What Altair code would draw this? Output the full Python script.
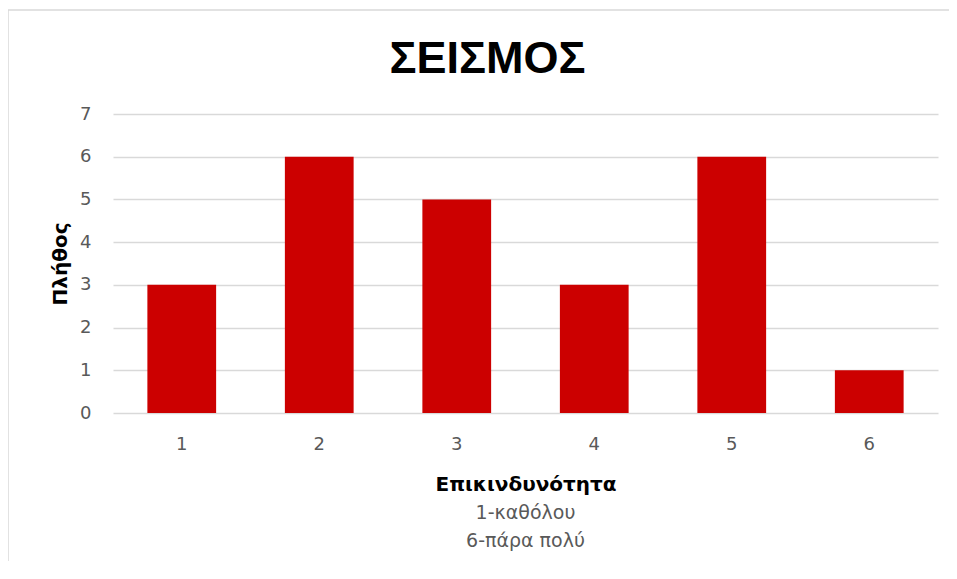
import altair as alt
import pandas as pd

categories = [1, 2, 3, 4, 5, 6]
values = [3, 6, 5, 3, 6, 1]
y_ticks = [0, 1, 2, 3, 4, 5, 6, 7]
chart_title = "ΣΕΙΣΜΟΣ"
x_title = "Επικινδυνότητα"
x_subtitle = ["1-καθόλου", "6-πάρα πολύ"]
y_title = "Πλήθος"

df = pd.DataFrame({"cat": categories, "value": values})

W, H = 825, 299
PAD_R = 11
FONT = "DejaVu Sans"

bars = alt.Chart(df).mark_bar(color="#CC0000").encode(
    x=alt.X(
        "cat:O",
        scale=alt.Scale(paddingInner=0.5, paddingOuter=0.25),
        axis=alt.Axis(
            title=x_title,
            labelAngle=0,
            labelFontSize=18,
            labelColor="#595959",
            labelFont=FONT,
            labelPadding=22,
            domain=False,
            ticks=False,
            grid=False,
            titleFont=FONT,
            titleFontSize=20,
            titleFontWeight="bold",
            titleColor="#000000",
            titleY=77,
            titleBaseline="alphabetic",
        ),
    ),
    y=alt.Y(
        "value:Q",
        scale=alt.Scale(domain=[0, 7], nice=False),
        axis=alt.Axis(
            title=y_title,
            values=y_ticks,
            labelFontSize=18,
            labelColor="#595959",
            labelFont=FONT,
            labelPadding=22,
            domain=False,
            ticks=False,
            grid=True,
            gridColor="#D9D9D9",
            gridWidth=1.3,
            titleFont=FONT,
            titleFontSize=20,
            titleFontWeight="bold",
            titleColor="#000000",
            titleAngle=270,
            titleX=-47,
            titleY=H / 2,
            titleAlign="center",
            titleBaseline="alphabetic",
        ),
    ),
)

border_top = alt.Chart(alt.Data(values=[{"b": 1}])).mark_rule(
    color="#D9D9D9", strokeWidth=1.5, clip=False
).encode(x=alt.value(-105), x2=alt.value(W + PAD_R + 5), y=alt.value(-104))

border_left = alt.Chart(alt.Data(values=[{"b": 1}])).mark_rule(
    color="#D9D9D9", strokeWidth=1.5, clip=False
).encode(x=alt.value(-105), y=alt.value(-104), y2=alt.value(460))

title = alt.Chart(alt.Data(values=[{"t": chart_title}])).mark_text(
    font="Liberation Sans", fontSize=45, fontWeight="bold", color="#000000",
    baseline="alphabetic", align="center",
).encode(x=alt.value(374.5), y=alt.value(-41), text="t:N")

sub1 = alt.Chart(alt.Data(values=[{"t": x_subtitle[0]}])).mark_text(
    font=FONT, fontSize=19, color="#595959", baseline="alphabetic", align="center"
).encode(x=alt.value(W / 2), y=alt.value(H + 106), text="t:N")

sub2 = alt.Chart(alt.Data(values=[{"t": x_subtitle[1]}])).mark_text(
    font=FONT, fontSize=19, color="#595959", baseline="alphabetic", align="center"
).encode(x=alt.value(W / 2), y=alt.value(H + 134), text="t:N")

chart = alt.layer(border_top, border_left, bars, title, sub1, sub2).properties(
    width=W,
    height=H,
    autosize=alt.AutoSizeParams(type="none"),
    padding={"left": 105, "top": 106, "right": PAD_R, "bottom": 148},
    background="#FFFFFF",
).configure_view(stroke=None)

chart.save("out.html", embed_options={"renderer": "svg", "actions": False})
